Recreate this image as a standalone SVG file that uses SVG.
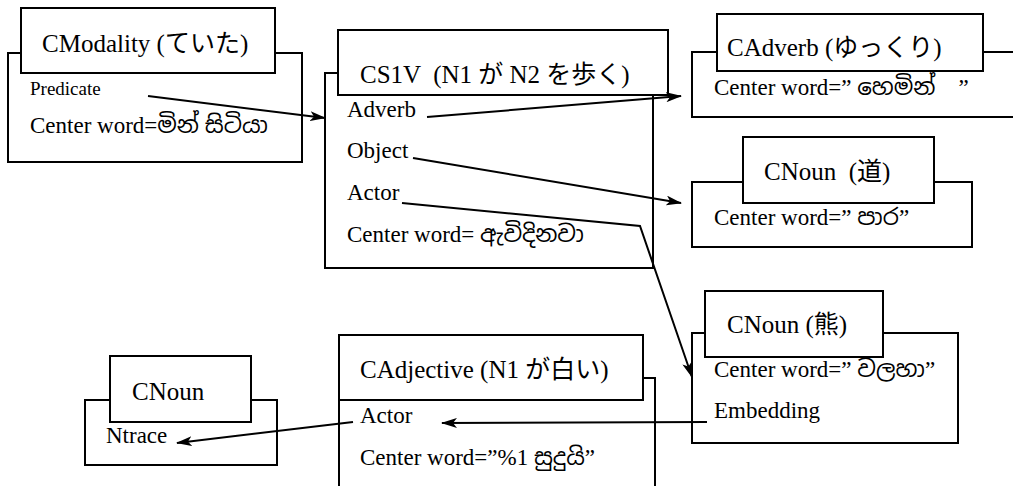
<svg xmlns="http://www.w3.org/2000/svg" width="1013" height="486" viewBox="0 0 1013 486">
  <style>
    .box { fill: #fff; stroke: #000; stroke-width: 2; }
    .head { font-family: "Liberation Serif", "Noto Sans Sinhala", "Noto Sans CJK JP", serif; font-size: 25px; fill: #000; white-space: pre; }
    .body { font-family: "Liberation Serif", "Noto Sans Sinhala", "Noto Sans CJK JP", serif; font-size: 23px; fill: #000; white-space: pre; }
    .small { font-family: "Liberation Serif", "Noto Sans CJK JP", serif; font-size: 19px; fill: #000; white-space: pre; }
    .link { fill: none; stroke: #000; stroke-width: 2; marker-end: url(#arrow); }
  </style>
  <defs>
    <marker id="arrow" viewBox="0 0 16 10" refX="15" refY="5" markerWidth="16" markerHeight="10" markerUnits="userSpaceOnUse" orient="auto">
      <path d="M0,0 L16,5 L0,10 L4,5 Z" fill="#000"/>
    </marker>
  </defs>

  <!-- CModality frame -->
  <g id="cmodality">
    <rect class="box" x="8" y="53" width="294" height="109"/>
    <rect class="box" x="21" y="8" width="254" height="65"/>
    <text class="head" x="42" y="52">CModality (ていた)</text>
    <text class="small" x="30" y="95">Predicate</text>
    <text class="body" x="30" y="133">Center word=මින් සිටියා</text>
  </g>

  <!-- CS1V frame -->
  <g id="cs1v">
    <rect class="box" x="325" y="73" width="328" height="195"/>
    <rect class="box" x="338" y="30" width="330" height="65"/>
    <text class="head" x="360" y="83">CS1V  (N1 が N2 を歩く)</text>
    <text class="body" x="347" y="117">Adverb</text>
    <text class="body" x="347" y="158">Object</text>
    <text class="body" x="347" y="200">Actor</text>
    <text class="body" x="347" y="242">Center word= ඇවිදිනවා</text>
  </g>

  <!-- CAdverb frame (runs off the right edge) -->
  <g id="cadverb">
    <rect class="box" x="692" y="52" width="330" height="65"/>
    <rect class="box" x="717" y="14" width="266" height="57"/>
    <text class="head" x="727" y="56">CAdverb (ゆっくり)</text>
    <text class="body" x="714" y="95">Center word=” හෙමින්    ”</text>
  </g>

  <!-- CNoun (road) frame -->
  <g id="cnoun-road">
    <rect class="box" x="692" y="182" width="280" height="65"/>
    <rect class="box" x="743" y="137" width="191" height="66"/>
    <text class="head" x="764" y="180">CNoun  (道)</text>
    <text class="body" x="714" y="225">Center word=” පාර”</text>
  </g>

  <!-- CNoun (bear) frame -->
  <g id="cnoun-bear">
    <rect class="box" x="692" y="333" width="266" height="110"/>
    <rect class="box" x="705" y="291" width="178" height="66"/>
    <text class="head" x="727" y="333">CNoun (熊)</text>
    <text class="body" x="714" y="377">Center word=” වලහා”</text>
    <text class="body" x="714" y="418">Embedding</text>
  </g>

  <!-- CAdjective frame (runs off the bottom edge) -->
  <g id="cadjective">
    <rect class="box" x="339" y="378" width="316" height="120"/>
    <rect class="box" x="339" y="335" width="304" height="65"/>
    <text class="head" x="360" y="378">CAdjective (N1 が白い)</text>
    <text class="body" x="360" y="423">Actor</text>
    <text class="body" x="360" y="465">Center word=”%1 සුදුයි”</text>
  </g>

  <!-- CNoun (trace) frame -->
  <g id="cnoun-trace">
    <rect class="box" x="85" y="400" width="192" height="65"/>
    <rect class="box" x="110" y="356" width="141" height="66"/>
    <text class="head" x="132" y="400">CNoun</text>
    <text class="body" x="106" y="443">Ntrace</text>
  </g>

  <!-- slot links -->
  <g id="connectors">
    <line class="link" x1="148" y1="96" x2="325" y2="118"/>
    <line class="link" x1="427" y1="117" x2="681" y2="96"/>
    <line class="link" x1="413" y1="158" x2="681" y2="203"/>
    <polyline class="link" points="402,203 640,226 692,377"/>
    <line class="link" x1="707" y1="422" x2="442" y2="423"/>
    <line class="link" x1="353" y1="422" x2="177" y2="443"/>
  </g>
</svg>
